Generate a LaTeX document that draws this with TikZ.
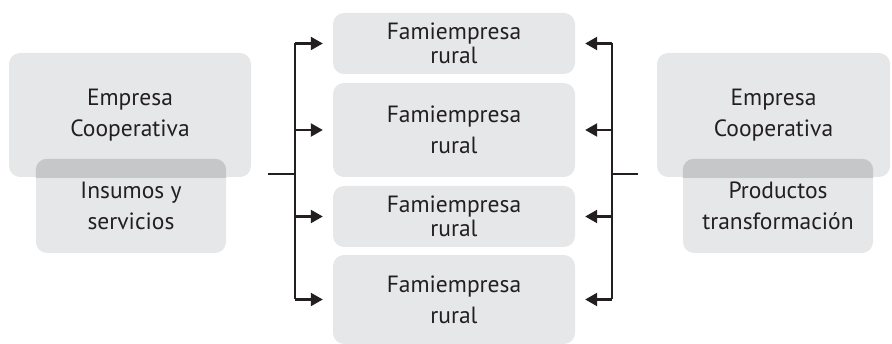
\documentclass[tikz,border=0pt]{standalone}
\usepackage{fontspec}
\setmainfont{PT Sans}
\usetikzlibrary{arrows.meta}
\definecolor{boxgray}{RGB}{230,231,232}
\definecolor{overgray}{RGB}{198,199,200}
\definecolor{linegray}{RGB}{35,31,32}
\tikzset{
  box/.style={fill=boxgray, rounded corners=11pt, align=center, inner sep=0pt,
    font=\fontsize{23.5}{24}\selectfont, text=linegray},
  loose/.style={font=\fontsize{23.5}{31}\selectfont},
  link/.style={draw=linegray, line width=2.3pt},
  arr/.style={link, -{Triangle[length=12pt,width=13pt]}, shorten >=10pt}
}
\begin{document}
\begin{tikzpicture}[x=1pt, y=-1pt]
  \useasboundingbox (0,0) rectangle (892,344);

  % Left side: cooperative and its supplies
  \node[box, loose, minimum width=242pt, minimum height=124pt] (coopL) at (130,115) {Empresa\\Cooperativa};
  \node[box, loose, minimum width=190pt, minimum height=94pt] (insL) at (131,206) {Insumos y\\servicios};

  % Right side: cooperative and its products
  \node[box, loose, minimum width=233pt, minimum height=124pt] (coopR) at (773.5,115) {Empresa\\Cooperativa};
  \node[box, loose, minimum width=190pt, minimum height=94pt] (prodR) at (778,206) {Productos\\transformación};

  % Overlap of the two boxes - darker strip
  \begin{scope}
    \clip (coopL.south west) rectangle (coopR.north east);
    \fill[overgray, rounded corners=11pt] (insL.north west) rectangle (insL.south east);
    \fill[overgray, rounded corners=11pt] (prodR.north west) rectangle (prodR.south east);
  \end{scope}

  % Family businesses in the middle
  \node[box, minimum width=242pt, minimum height=61pt] (fam1) at (454,43.5) {Famiempresa\\rural};
  \node[box, loose, minimum width=242pt, minimum height=94pt] (fam2) at (454,130) {Famiempresa\\rural};
  \node[box, minimum width=242pt, minimum height=61pt] (fam3) at (454,216.5) {Famiempresa\\rural};
  \node[box, loose, minimum width=242pt, minimum height=89pt] (fam4) at (454,299.5) {Famiempresa\\rural};

  % Brackets
  \coordinate (spineL) at (295,174);
  \coordinate (stubL) at (268,174);
  \coordinate (spineR) at (612,174);
  \coordinate (stubR) at (638,174);
  \draw[link] (stubL) -- (spineL);
  \draw[link] (stubR) -- (spineR);
  \draw[link] (fam1.west -| spineL) -- (fam4.west -| spineL);
  \draw[link] (fam1.east -| spineR) -- (fam4.east -| spineR);
  \foreach \f in {fam1,fam2,fam3,fam4} {
    \draw[arr] (\f.west -| spineL) -- (\f.west);
    \draw[arr] (\f.east -| spineR) -- (\f.east);
  }
\end{tikzpicture}
\end{document}
